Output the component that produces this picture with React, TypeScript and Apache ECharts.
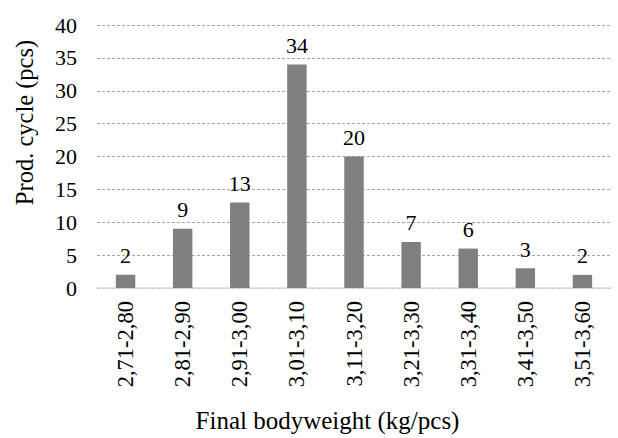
import React, { useEffect, useRef } from "react";
import * as echarts from "echarts";

const categories = [
  "2,71-2,80",
  "2,81-2,90",
  "2,91-3,00",
  "3,01-3,10",
  "3,11-3,20",
  "3,21-3,30",
  "3,31-3,40",
  "3,41-3,50",
  "3,51-3,60",
];
const values = [2, 9, 13, 34, 20, 7, 6, 3, 2];
const yTicks = { min: 0, max: 40, interval: 5 };
const xTitle = "Final bodyweight (kg/pcs)";
const yTitle = "Prod. cycle (pcs)";

const FONT = "Liberation Serif";

export default function App() {
  const ref = useRef<HTMLDivElement>(null);
  useEffect(() => {
    if (!ref.current) return;
    const chart = echarts.init(ref.current, undefined, { renderer: "svg" });
    chart.setOption({
      animation: false,
      textStyle: { fontFamily: FONT },
      grid: { left: 97, right: 7, top: 25, bottom: 146, containLabel: false },
      xAxis: {
        type: "category",
        data: categories,
        name: xTitle,
        nameLocation: "middle",
        nameGap: 120,
        nameTextStyle: { fontFamily: FONT, fontSize: 25, color: "#000", padding: [0, 53, 0, 0] },
        axisLine: { show: true, lineStyle: { color: "#d9d9d9", width: 1.5 } },
        axisTick: { show: false },
        axisLabel: {
          rotate: 90,
          margin: 13,
          fontFamily: FONT,
          fontSize: 22.5,
          color: "#000",
          interval: 0,
        },
      },
      yAxis: {
        type: "value",
        min: yTicks.min,
        max: yTicks.max,
        interval: yTicks.interval,
        name: yTitle,
        nameLocation: "middle",
        nameGap: 60,
        nameTextStyle: { fontFamily: FONT, fontSize: 24.5, color: "#000", padding: [0, 0, 0, 68] },
        axisLine: { show: false },
        axisTick: { show: false },
        axisLabel: { margin: 20, fontFamily: FONT, fontSize: 22, color: "#000" },
        splitLine: { lineStyle: { type: [3, 2], color: "#a6a6a6", width: 1 } },
      },
      series: [
        {
          type: "bar",
          data: values,
          barWidth: "34%",
          itemStyle: { color: "#7f7f7f" },
          label: {
            show: true,
            position: "top",
            distance: 8,
            fontFamily: FONT,
            fontSize: 22,
            color: "#000",
          },
        },
      ],
    });
    return () => chart.dispose();
  }, []);
  return <div ref={ref} style={{ width: 618, height: 438, position: "absolute", left: 0, top: 0 }} />;
}
